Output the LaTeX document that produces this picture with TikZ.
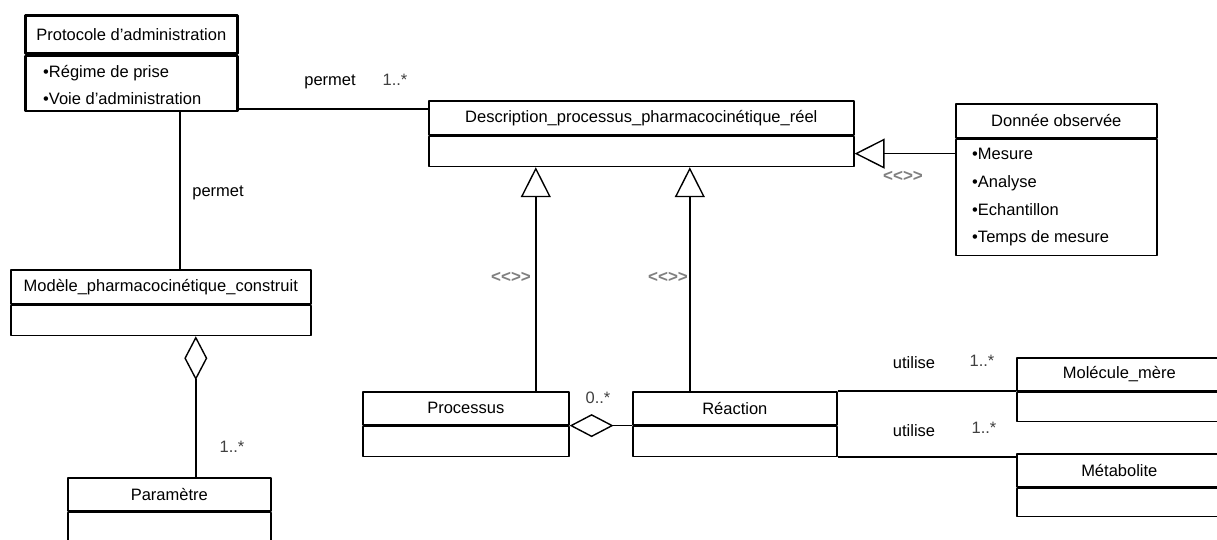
\documentclass[tikz,border=0pt]{standalone}
\usepackage{fontspec}
\setmainfont{Liberation Sans}
\usetikzlibrary{arrows.meta,positioning}
\tikzset{
	hd/.style={draw,line width=1.6pt,anchor=north west,inner sep=0pt,minimum height=34pt},
	bd/.style={draw,line width=1.6pt,anchor=north,inner sep=0pt},
	items/.style={anchor=west,align=left,inner sep=0pt},
	lbl/.style={inner sep=1pt},
	mult/.style={inner sep=1pt,text=black!75},
	st/.style={inner sep=1pt,text=gray,font=\fontsize{17}{17}\selectfont\bfseries},
	lnk/.style={line width=1.5pt},
	gen/.style={lnk,-{Triangle[open,length=30pt,width=30pt,line width=1.4pt]}},
	agg/.style={lnk,{Diamond[open,length=44pt,width=23pt,line width=1.4pt]}-}
}
\begin{document}
\begin{tikzpicture}[x=1pt,y=-1pt,line join=round,font=\fontsize{16.5}{19}\selectfont]
	\useasboundingbox (0,0) rectangle (1217,539);
	% classes
	\node[hd,line width=2.6pt,minimum width=212pt,minimum height=38pt] (proto) at (24,14) {Protocole d'administration};
	\node[bd,line width=2.6pt,minimum width=212pt,minimum height=55pt] (proto-b) at (proto.south) {};
	\node[items,font=\fontsize{16.5}{27}\selectfont] (proto-t) at ([xshift=19pt,yshift=-2pt]proto-b.west) {•Régime de prise\\•Voie d'administration};
	\node[hd,minimum width=425pt] (desc) at (428,100) {Description\_processus\_pharmacocinétique\_réel};
	\node[bd,minimum width=425pt,minimum height=30pt] (desc-b) at (desc.south) {};
	\node[hd,minimum width=201pt] (donnee) at (955,103) {Donnée observée};
	\node[bd,minimum width=201pt,minimum height=116pt] (donnee-b) at (donnee.south) {};
	\node[items,font=\fontsize{16.5}{27.7}\selectfont] (donnee-t) at ([xshift=17pt]donnee-b.west) {•Mesure\\•Analyse\\•Echantillon\\•Temps de mesure};
	\node[hd,minimum width=300pt] (modele) at (10,269) {Modèle\_pharmacocinétique\_construit};
	\node[bd,minimum width=300pt,minimum height=30pt] (modele-b) at (modele.south) {};
	\node[hd,minimum width=203pt,minimum height=33pt] (param) at (67,477) {Paramètre};
	\node[bd,minimum width=203pt,minimum height=33pt] (param-b) at (param.south) {};
	\node[hd,minimum width=206pt,minimum height=33pt] (proc) at (362,391) {Processus};
	\node[bd,minimum width=206pt,minimum height=30pt] (proc-b) at (proc.south) {};
	\node[hd,minimum width=204pt,minimum height=33pt] (reac) at (632,391) {Réaction};
	\node[bd,minimum width=204pt,minimum height=30pt] (reac-b) at (reac.south) {};
	\node[hd,minimum width=205pt,minimum height=33pt] (mol) at (1016,357) {Molécule\_mère};
	\node[bd,minimum width=205pt,minimum height=29pt] (mol-b) at (mol.south) {};
	\node[hd,minimum width=205pt,minimum height=33pt] (meta) at (1016,453) {Métabolite};
	\node[bd,minimum width=205pt,minimum height=28pt] (meta-b) at (meta.south) {};
	% associations
	\draw[lnk] ([yshift=3pt]proto-b.south east) -- ([yshift=3pt]proto-b.south east -| desc.west);
	\draw[lnk] ([xshift=156pt]proto-b.south west) -- ([xshift=156pt]proto-b.south west |- modele.north);
	\draw[agg] ([xshift=35pt]modele-b.south) -- ([xshift=35pt]modele-b.south |- param.north);
	\draw[agg] (proc.south east) -- (reac.south west);
	\draw[lnk] (reac.north east) -- (reac.north east -| mol-b.north west);
	\draw[lnk] (reac-b.south east) -- (reac-b.south east -| meta.north west);
	% heritage
	\draw[gen] ([xshift=70pt]proc.north) -- ([xshift=70pt]proc.north |- desc-b.south);
	\draw[gen] ([xshift=-45pt]reac.north) -- ([xshift=-45pt]reac.north |- desc-b.south);
	\draw[gen] ([yshift=-15pt]donnee-b.north west) -- ([yshift=-15pt]donnee-b.north west -| desc-b.east);
	% labels
	\node[lbl] (permet-a) at (330,82) {permet};
	\node[mult] (card-a) at (395,80) {1..*};
	\node[lbl] (permet-b) at (218,193) {permet};
	\node[mult] (card-b) at (232,447) {1..*};
	\node[mult] (card-c) at (598,398) {0..*};
	\node[lbl] (utilise-a) at (914,363) {utilise};
	\node[mult] (card-d) at (982,361) {1..*};
	\node[lbl] (utilise-b) at (914,431) {utilise};
	\node[mult] (card-e) at (984,428) {1..*};
	\node[st] (st-a) at (511,277) {<{}<{}>{}>};
	\node[st] (st-b) at (668,277) {<{}<{}>{}>};
	\node[st] (st-c) at (903,176) {<{}<{}>{}>};
\end{tikzpicture}
\end{document}
